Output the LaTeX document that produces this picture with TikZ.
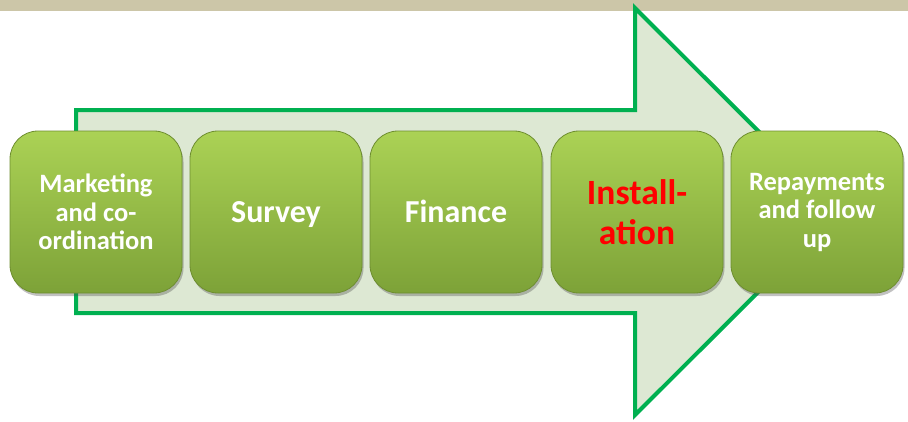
\documentclass[tikz,border=0pt]{standalone}
\usepackage{fontspec}
\setmainfont{Carlito}
\usetikzlibrary{shadows}
\definecolor{tanband}{HTML}{CCC6A8}
\definecolor{arrowgreen}{HTML}{00B050}
\definecolor{arrowfill}{HTML}{DDE8D3}
\definecolor{boxtop}{HTML}{ABD255}
\definecolor{boxbot}{HTML}{7DA238}
\definecolor{boxedge}{HTML}{6E8E30}
\definecolor{redtext}{HTML}{FF0000}
\begin{document}
\begin{tikzpicture}[x=1pt,y=-1pt,
  stepbox/.style={draw=boxedge, line width=0.8pt, rounded corners=28pt,
    top color=boxtop, bottom color=boxbot, minimum width=172pt, minimum height=162pt,
    align=center, text=white, inner sep=2pt,
    drop shadow={shadow xshift=1.5pt, shadow yshift=-3pt, opacity=0.35, fill=black!70}},
  smalltext/.style={font=\fontsize{26.5}{28.5}\selectfont\bfseries},
  midtext/.style={font=\fontsize{32}{36}\selectfont\bfseries, text height=24pt, text depth=4pt},
  bigtext/.style={font=\fontsize{35.5}{40}\selectfont\bfseries, text=redtext},
  arrowline/.style={draw=arrowgreen, fill=arrowfill, line width=4pt, line join=miter}]
\useasboundingbox (0,0) rectangle (908,421);
\fill[tanband] (0,0) rectangle (908,11);
\draw[arrowline] (76,110) -- (635,110) -- (635,8) -- (839,211.5) -- (635,415) -- (635,313) -- (76,313) -- cycle;
\node[stepbox, smalltext] (s1) at (96,212) {Marketing\\and co-\\ordination};
\node[stepbox, midtext] (s2) at (276,212) {Survey};
\node[stepbox, midtext] (s3) at (456,212) {Finance};
\node[stepbox, bigtext] (s4) at (637,212) {Install-\\ation};
\node[stepbox, smalltext] (s5) at (817,212) {Repayments\\and follow\\up};
\end{tikzpicture}
\end{document}
